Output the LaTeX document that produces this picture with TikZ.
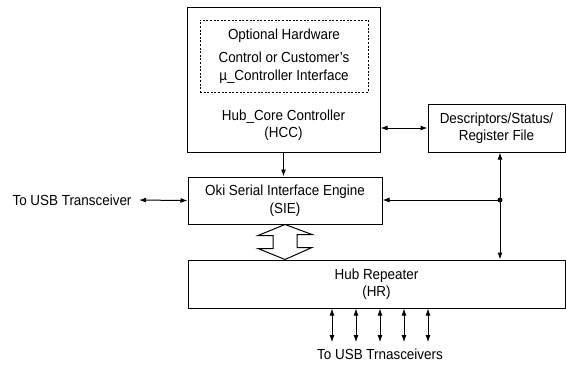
\documentclass[tikz,border=0pt]{standalone}
\usepackage{fontspec}
\setmainfont{Liberation Sans}[FakeStretch=0.92]
\usetikzlibrary{arrows.meta}

\tikzset{
    blk/.style={draw, line width=1pt, inner sep=0pt, align=center},
    optblk/.style={draw, line width=0.8pt, dash pattern=on 2pt off 1.6pt, inner sep=0pt, align=center},
    lbl/.style={align=center},
    sgl/.style={line width=1pt, -{Latex[length=7pt,width=5pt]}},
    dbl/.style={line width=1pt, {Latex[length=7pt,width=5pt]}-{Latex[length=7pt,width=5pt]}},
}

\begin{document}
\begin{tikzpicture}[x=1pt, y=-1pt, font=\fontsize{14.6}{17.5}\selectfont]
        \useasboundingbox (0,0) rectangle (566,365);
        % blocks
        \node[blk, minimum width=193, minimum height=145] (hcc) at (283.5,79.5) {};
        \node[optblk, minimum width=168, minimum height=72] (opt) at (284,56) {Optional Hardware\\[6pt]Control or Customer’s\\µ\_Controller Interface};
        \node[lbl] (hcctxt) at (283.5,125) {Hub\_Core Controller\\(HCC)};
        \node[blk, minimum width=194, minimum height=47] (sie) at (285,200.5) {Oki Serial Interface Engine\\(SIE)};
        \node[blk, minimum width=137, minimum height=48] (desc) at (496.5,128) {Descriptors/Status/\\Register File};
        \node[blk, minimum width=377, minimum height=48] (hr) at (376.5,284) {Hub Repeater\\(HR)};
        \node[lbl] (usbl) at (72,200) {To USB Transceiver};
        \node[lbl] (usbr) at (380,354) {To USB Trnasceivers};
        \coordinate (junc) at (500,200);
        % connectors
        \draw[sgl] (hcc.south) -- (hcc.south |- sie.north);
        \draw[dbl] (hcc.east |- desc.west) -- (desc.west);
        \draw[dbl, shorten <=4pt] (usbl.east) -- (sie.west);
        \draw[sgl] (junc) -- (sie.east |- junc);
        \draw[sgl] (junc) -- (junc |- desc.south);
        \draw[sgl] (junc) -- (junc |- hr.north);
        \fill (junc) circle (2.5);
        \draw[line width=1pt, fill=white] (sie.south) -- ++(-27,11) -- ++(15,0) -- ++(0,13) -- ++(-15,0) -- (sie.south |- hr.north) -- ++(27,-12) -- ++(-15,0) -- ++(0,-13) -- ++(15,0) -- cycle;
        \foreach \dx in {-48,-24,0,24,48}
            \draw[dbl, shorten <=3pt] ([xshift=\dx]usbr.north) -- ([xshift=\dx]usbr.north |- hr.south);
    \end{tikzpicture}
\end{document}
